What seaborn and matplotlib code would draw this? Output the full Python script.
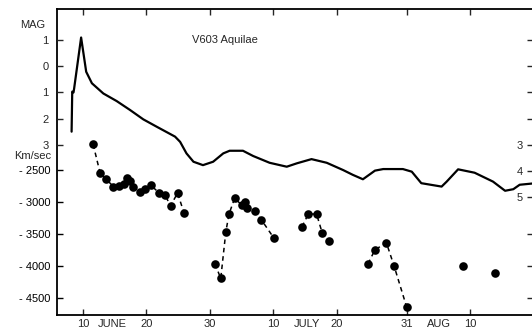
import matplotlib
matplotlib.use("Agg")
import matplotlib.pyplot as plt
import seaborn as sns
import pandas as pd

# Light curve of V603 Aquilae: day counted from 1 June, visual magnitude
curve_day = [8.2, 8.3, 8.5, 8.6, 9.7, 10.5, 11.4, 13.2, 15.3, 17.4, 19.5, 21.6,
             24.5, 25.3, 26.3, 27.4, 28.9, 30.5, 32.1, 33.1, 35.2, 36.8, 39.4,
             42.1, 43.7, 46.0, 48.4, 51.0, 52.5, 54.1, 56.0, 57.3, 60.4, 61.8,
             63.3, 66.5, 67.3, 69.1, 71.7, 74.6, 76.5, 77.8, 78.8, 80.9]
curve_mag = [2.50, 0.97, 1.00, 0.85, -1.10, 0.21, 0.65, 1.04, 1.33, 1.67, 2.03,
             2.31, 2.69, 2.89, 3.33, 3.65, 3.78, 3.65, 3.33, 3.23, 3.23, 3.43,
             3.69, 3.84, 3.71, 3.55, 3.69, 3.97, 4.15, 4.32, 3.99, 3.93, 3.93,
             4.03, 4.47, 4.60, 4.41, 3.94, 4.07, 4.41, 4.76, 4.70, 4.53, 4.48]

# Radial velocities (km/s), grouped into observing runs joined by dashes
vel_day = [11.6, 12.7, 13.6, 14.8, 15.6, 16.4, 16.9, 17.4, 17.9, 18.9, 19.8,
           20.7, 22.0, 22.9, 23.8, 24.9, 25.9,
           30.8, 31.7, 32.5, 33.0, 33.9, 35.0, 35.6, 35.9, 37.1, 38.1, 40.1,
           44.5, 45.5, 46.8, 47.7, 48.8,
           54.9, 56.0, 57.8, 59.0, 61.0,
           69.8,
           74.9]
vel_kms = [-2100, -2550, -2640, -2760, -2750, -2720, -2630, -2680, -2760,
           -2850, -2790, -2740, -2860, -2890, -3060, -2860, -3170,
           -3970, -4200, -3470, -3190, -2940, -3050, -3000, -3100, -3150,
           -3280, -3570,
           -3390, -3190, -3190, -3490, -3620,
           -3970, -3750, -3640, -4000, -4650,
           -4000,
           -4110]
vel_run = [1] * 17 + [2] * 11 + [3] * 5 + [4] * 5 + [5] + [6]

# Axis ticks and labels
date_ticks = [10, 20, 30, 40, 50, 61, 71]
date_labels = ["10", "20", "30", "10", "20", "31", "10"]
month_pos = [14.6, 45.3, 66.1]
month_labels = ["JUNE", "JULY", "AUG"]
mag_left_ticks = [-1, 0, 1, 2, 3]
mag_left_labels = ["1", "0", "1", "2", "3"]
mag_right_ticks = [-1, 0, 1, 2, 3, 4, 5]
mag_right_labels = ["", "", "", "", "3", "4", "5"]
vel_ticks = [-2500, -3000, -3500, -4000, -4500]
vel_labels = ["- 2500", "- 3000", "- 3500", "- 4000", "- 4500"]
vel_right_ticks = [-3500, -4000, -4500]

sns.set_style("white")
plt.rcParams["font.family"] = ["Liberation Sans", "DejaVu Sans"]
FS = 8
plt.rcParams["font.size"] = FS

W, H = 532, 331
fig = plt.figure(figsize=(W / 100, H / 100), dpi=100)
fig.patch.set_facecolor("white")

left, right, top, bottom = 57, 533, 9, 315
rect = [left / W, (H - bottom) / H, (right - left) / W, (bottom - top) / H]
xlim = (5.9, 80.9)
mag_lim = (9.51, -2.19)
vel_lim = (-4772, 23)

# Velocity axes (main frame)
ax = fig.add_axes(rect)
ax.set_xlim(*xlim)
ax.set_ylim(*vel_lim)

vel_df = pd.DataFrame({"day": vel_day, "v": vel_kms, "run": vel_run})
sns.lineplot(data=vel_df, x="day", y="v", units="run", estimator=None,
             sort=False, color="black", linewidth=1.1,
             linestyle=(0, (3, 2.5)), marker="o", markersize=6.2,
             markeredgewidth=0, ax=ax, legend=False)

ax.set_xlabel("")
ax.set_ylabel("")
ax.set_yticks(vel_ticks, vel_labels)
ax.set_xticks(date_ticks, date_labels)
ax.set_xticks(month_pos, month_labels, minor=True)
ax.tick_params(axis="y", which="major", direction="in", length=4.5, width=1,
               left=True, right=False, pad=4.5, labelsize=FS, colors="black")
ax.tick_params(axis="x", which="major", direction="in", length=4, width=1,
               bottom=True, top=True, pad=3, labelsize=FS)
ax.tick_params(axis="x", which="minor", length=0, pad=3, labelsize=FS,
               bottom=True, top=False)
for side in ("left", "bottom", "top"):
    ax.spines[side].set_linewidth(1.3)
    ax.spines[side].set_color("black")
ax.spines["right"].set_visible(False)

# Magnitude axes overlaid on the same frame
axm = fig.add_axes(rect, sharex=ax, frameon=False)
axm.patch.set_alpha(0)
axm.set_ylim(*mag_lim)
curve_df = pd.DataFrame({"day": curve_day, "mag": curve_mag})
sns.lineplot(data=curve_df, x="day", y="mag", sort=False, estimator=None,
             color="black", linewidth=1.6, ax=axm)
axm.set_xlabel("")
axm.set_ylabel("")
axm.set_yticks(mag_left_ticks, mag_left_labels)
axm.tick_params(axis="y", direction="in", length=4.5, width=1, left=True,
                right=False, pad=6, labelsize=FS)
axm.tick_params(axis="x", which="both", bottom=False, top=False,
                labelbottom=False)
axm.text(27.2, -1.0, "V603 Aquilae", fontsize=FS, ha="left", va="center")

# Tick column along the right edge
rx = [right / W, (H - bottom) / H, 0.01, (bottom - top) / H]
axr_m = fig.add_axes(rx, frameon=False)
axr_m.set_ylim(*mag_lim)
axr_m.set_yticks(mag_right_ticks, mag_right_labels)
axr_m.set_xticks([])
axr_m.tick_params(axis="y", direction="out", length=4, width=1, left=True,
                  pad=3.5, labelsize=FS)
axr_v = fig.add_axes(rx, frameon=False)
axr_v.set_ylim(*vel_lim)
axr_v.set_yticks(vel_right_ticks, [""] * len(vel_right_ticks))
axr_v.set_xticks([])
axr_v.tick_params(axis="y", direction="out", length=4, width=1, left=True)

fig.text(32.5 / W, (H - 25) / H, "MAG", fontsize=FS, ha="center", va="center")
fig.text(33 / W, (H - 156) / H, "Km/sec", fontsize=FS, ha="center",
         va="center")

fig.savefig("out.png", dpi=100)
